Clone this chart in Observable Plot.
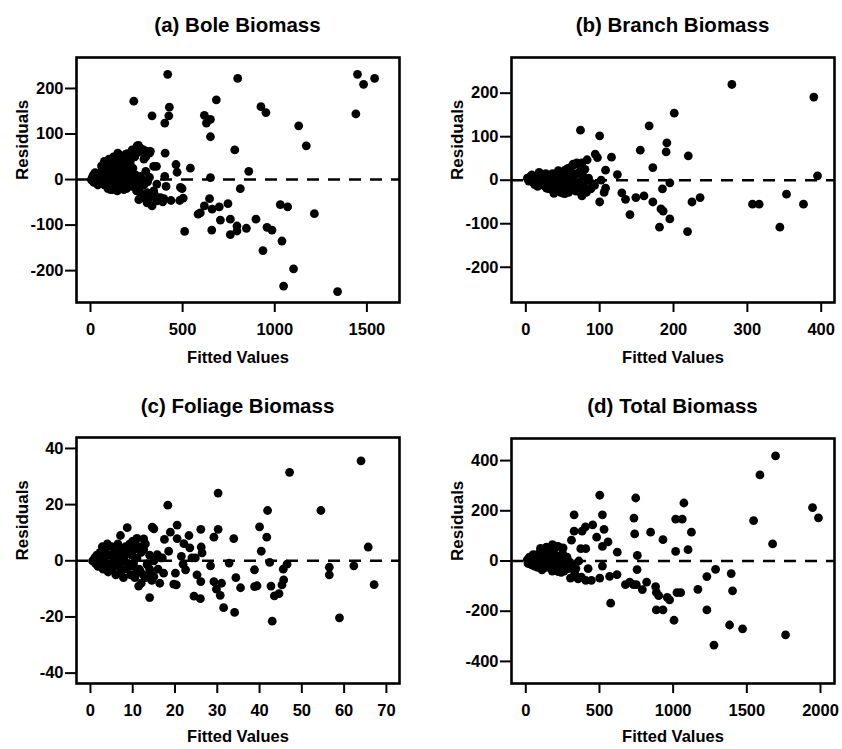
<!DOCTYPE html>
<html>
<head>
<meta charset="utf-8">
<script src="https://cdn.jsdelivr.net/npm/d3@7"></script>
<script src="https://cdn.jsdelivr.net/npm/@observablehq/plot@0.6"></script>
<style>
  html, body { margin: 0; padding: 0; background: #fff; }
  #wrap { position: relative; width: 842px; height: 749px; background: #fff; overflow: hidden;
          font-family: "Liberation Sans", Arial, sans-serif; }
  .title { position: absolute; width: 421px; text-align: center; font-weight: bold;
           font-size: 20.5px; line-height: 20px; color: #000; white-space: nowrap; }
  .panel { position: absolute; }
</style>
</head>
<body>
<div id="wrap"></div>
<script>
// ---------- data ----------
const titles = ["(a) Bole Biomass", "(b) Branch Biomass", "(c) Foliage Biomass", "(d) Total Biomass"];
const xLabel = "Fitted Values";
const yLabel = "Residuals";

const boleTicksX = [0, 500, 1000, 1500];
const boleTicksY = [-200, -100, 0, 100, 200];
const branchTicksX = [0, 100, 200, 300, 400];
const branchTicksY = [-200, -100, 0, 100, 200];
const foliageTicksX = [0, 10, 20, 30, 40, 50, 60, 70];
const foliageTicksY = [-40, -20, 0, 20, 40];
const totalTicksX = [0, 500, 1000, 1500, 2000];
const totalTicksY = [-400, -200, 0, 200, 400];

// [fitted, residual]
const bolePoints = [
  [419,231],[235,172],[334,140],[428,159],[425,140],[403,124],[799,222],[683,175],[618,141],[651,132],
  [629,124],[651,94],[925,160],[952,147],[783,65],[859,18],[1130,118],[1171,74],[1449,231],[1482,209],
  [1542,222],[1440,144],[1215,-75],[1030,-55],[1070,-60],[1039,-135],[1102,-196],[1048,-234],[1341,-246],[936,-156],
  [898,-87],[958,-105],[985,-111],[846,-107],[813,-20],[746,-53],[759,-87],[795,-102],[795,-113],[759,-121],
  [705,-89],[699,-60],[660,-65],[646,-42],[618,-58],[596,-73],[584,-76],[658,-111],[511,-114],[651,4],
  [542,25],[464,33],[470,16],[488,-17],[497,-20],[503,-41],[484,-46],[437,-46],[398,-42],[405,58],
  [403,7],[410,-15],[343,29],[358,29],[325,62],[307,62],[253,74],[271,69],[289,65],[226,65],
  [235,60],[239,51],[199,57],[148,58],[204,36],[343,-25],[307,-29],[262,-44],[307,-51],[334,-58],
  [352,-36],[361,-47],[392,-49],[271,7],[285,-6],[253,-15],[235,-4],[202,-11],[181,-22],[145,-25],
  [108,-22],[87,-11],
  [5,0],[8,-2],[10,5],[12,3],[15,-3],[15,10],[18,-6],[20,8],[22,4],[25,2],[25,15],[28,-1],[30,-5],
  [33,7],[35,12],[38,-4],[40,3],[40,-12],[45,-8],[48,2],[50,15],[52,-7],[55,6],[58,9],[60,-2],[60,30],
  [65,20],[68,-4],[70,10],[72,16],[75,-12],[75,40],[80,25],[85,0],[85,12],[88,-10],[90,35],[95,-6],
  [95,-20],[98,8],[100,45],[102,28],[105,18],[108,2],[110,-15],[112,-5],[115,30],[118,14],[120,5],
  [120,-22],[125,50],[128,26],[130,-10],[132,-2],[135,22],[138,6],[140,40],[145,10],[148,33],[150,-18],
  [152,-8],[155,55],[158,22],[160,15],[162,-15],[165,-5],[168,8],[170,30],[175,45],[180,2],[185,-12],
  [185,30],[190,55],[195,-20],[200,20],[200,48],[205,5],[210,-8],[215,40],[215,35],[220,10],[225,-15],
  [230,25],[235,-8],[240,50],[245,10],[250,-25],[250,70],[255,-5],[260,-10],[260,75],[265,-20],[265,60],
  [270,-30],[270,65],[280,0],[285,-40],[290,-12],[290,45],[300,18],[300,-35],[300,50],[310,-5],[310,62],
  [315,-45],[320,5],[320,58],[330,-30],[340,-35],[360,-10],[380,-40]
];

const branchPoints = [
  [279,220],[390,191],[395,10],[201,154],[167,125],[74,115],[100,102],[191,86],[190,65],[155,69],
  [220,56],[172,29],[94,60],[97,52],[116,53],[108,23],[124,13],[102,0],[195,-6],[185,-20],
  [108,-18],[106,-28],[130,-29],[135,-44],[149,-40],[160,-36],[172,-50],[100,-50],[141,-79],[183,-66],
  [186,-71],[195,-89],[181,-108],[219,-118],[225,-50],[236,-40],[307,-55],[316,-55],[353,-32],[376,-55],
  [344,-108],[93,-12],[84,0],[83,47],[76,40],[69,40],[64,37],[57,27],[53,23],[60,17],
  [69,15],[76,15],[75,-11],[76,-36],[81,-21],[53,-31],[39,-27],[30,-19],
  [2,5],[4,-2],[6,8],[8,0],[10,-5],[12,3],[14,10],[15,-8],[17,5],[18,18],[20,-3],[22,12],[24,-12],
  [25,6],[27,15],[28,-18],[30,2],[32,10],[33,-20],[35,-8],[36,15],[38,5],[40,-25],[41,12],[43,-15],
  [45,0],[46,18],[48,-22],[50,8],[51,-30],[53,20],[55,-10],[56,25],[58,-28],[60,5],[61,30],[63,-18],
  [65,35],[66,12],[68,-25],[70,38],[71,-5],[73,20],[75,-30],[77,10],[79,-15],[80,25],[82,-28],[85,5],
  [88,-20],[90,-8],[25,-5],[35,3],[45,-12],[55,-2],[65,-8],[12,-10],[20,8],[30,-12],[40,-2],[50,-18],
  [60,15],[70,-12],[8,12],[5,0],[3,3],[16,-14],[44,22],[52,-5],[62,-2],[38,-30],[47,-28]
];

const foliagePoints = [
  [64.0,35.6],[47.1,31.5],[30.2,24.1],[54.5,17.9],[41.9,17.9],[18.3,19.8],[40.0,12.1],[41.7,8.4],[40.4,3.4],[33.9,7.9],
  [30.2,11.2],[29.2,8.4],[26.1,11.2],[65.7,4.9],[62.3,-1.8],[56.5,-2.3],[56.5,-5.0],[58.9,-20.3],[67.1,-8.5],[46.5,-1.2],
  [45.6,-3.0],[45.7,-6.8],[45.3,-8.6],[44.6,-11.7],[43.5,-12.5],[42.7,-9.0],[43.0,-21.5],[42.4,-0.6],[38.8,-3.2],[38.8,-9.2],
  [39.4,-8.9],[35.5,-9.6],[34.4,-6.0],[34.1,-18.4],[31.5,-16.7],[30.7,-12.3],[31.0,-8.0],[29.2,-7.4],[29.8,-10.1],[32.8,-0.8],
  [28.4,-1.8],[26.1,-7.4],[26.0,-13.5],[24.5,-12.6],[26.2,4.9],[26.4,2.8],[25.2,-5.0],[24.8,1.0],[24.0,1.0],[23.3,9.0],
  [23.5,4.6],[22.1,6.1],[20.5,12.7],[18.9,10.2],[17.5,7.6],[20.5,7.9],[20.1,-4.4],[19.7,-8.3],[20.3,-8.6],[17.3,-4.4],
  [16.4,-8.0],[15.0,11.4],[14.6,12.0],[14.0,-13.1],[11.4,-9.0],[12.6,7.8],[8.7,11.8],[7.1,9.0],[18.5,3.4],[21.5,1.6],
  [21.9,-1.2],[22.5,-3.2],[15.8,2.2],[16.6,1.0],[13.4,-1.4],[14.2,-4.4],[15.0,-5.6],[11.8,-3.8],[10.2,-0.8],[9.5,4.0],
  [11.0,5.2],[12.6,4.0],
  [0.5,0],[1,1],[1.2,-1],[1.5,2],[1.8,-2],[2,0.5],[2.3,3],[2.5,-1.5],[2.8,5],[3,-3],[3.2,1],[3.5,4],[3.7,-2],
  [4,6],[4.2,-4],[4.5,2],[4.8,-1],[5,5],[5.2,-3],[5.5,0],[5.8,3],[6,-5],[6.2,1],[6.5,6],[6.8,-2],[7,4],
  [7.2,-4],[7.5,2],[7.8,-6],[8,0],[8.3,5],[8.5,-3],[8.8,3],[9,-1],[9.3,6],[9.5,-5],[9.8,2],[10,-2],
  [10.3,4],[10.5,-6],[11,1],[11.5,-3],[12,3],[12.5,-5],[13,6],[13.5,-1],[14,2],[14.5,-7],[15,0],[16,-3],
  [17,1],[3,0],[4,-1],[6,2],[7,-1],[8,1.5],[2,-0.5],[1,0],[5,-2],[9,3],[11,-4],[12,-8],[13,-6],[14,-3],
  [10,7],[11,8],[12,5]
];

const totalPoints = [
  [1695,419],[1589,343],[1546,161],[1675,68],[1946,213],[1986,172],[1763,-294],[1471,-270],[1383,-255],[1277,-335],
  [1229,-195],[1229,-62],[1288,-33],[1394,-50],[1403,-119],[1168,-113],[1124,115],[1101,45],[1073,231],[1062,167],
  [1017,167],[1017,38],[1006,-236],[1051,-126],[1026,-126],[976,-155],[960,-145],[931,-195],[886,-195],[902,-138],
  [886,-125],[881,-102],[820,-84],[791,-114],[750,-94],[730,-94],[705,-84],[676,-94],[755,-34],[757,22],
  [739,108],[734,171],[746,251],[847,115],[931,85],[520,184],[502,262],[531,126],[558,76],[520,58],
  [481,95],[454,144],[405,136],[382,119],[328,184],[328,119],[310,83],[373,49],[407,49],[621,35],
  [520,-20],[502,-68],[569,-61],[619,-54],[576,-168],[423,-30],[445,-77],[407,-77],[377,-64],[355,-71],
  [303,-68],[332,-50],[282,4],[253,52],[219,58],[181,65],
  [10,5],[20,-5],[30,10],[40,0],[50,-10],[60,15],[70,-3],[80,20],[90,-15],[100,8],[110,-20],[120,25],
  [130,0],[140,-25],[150,35],[160,-8],[170,12],[180,-30],[190,45],[200,-12],[210,20],[220,-35],[230,5],
  [240,-20],[250,30],[260,-40],[270,-10],[280,15],[290,-30],[300,-5],[100,50],[120,40],[140,55],[160,30],
  [80,-25],[60,-20],[180,-40],[200,-38],[220,-42],[240,-45],[170,48],[210,58],[250,-5],[320,-20],[340,-30],
  [360,0],[150,-15],[130,20],[110,-35],[90,30],[50,25],[40,-15],[25,15],[15,-10]
];

// ---------- drawing ----------
const FONT = '"Liberation Sans", Arial, Helvetica, sans-serif';
const wrap = document.getElementById("wrap");

function makePanel(cfg) {
  const t = document.createElement("div");
  t.className = "title";
  t.textContent = cfg.title;
  t.style.left = (cfg.left + cfg.titleShift) + "px";
  t.style.top = cfg.titleTop + "px";
  wrap.appendChild(t);

  const fmt = d => String(d);
  const chart = Plot.plot({
    width: 421,
    height: cfg.height,
    marginLeft: cfg.mL, marginRight: cfg.mR, marginTop: cfg.mT, marginBottom: cfg.mB,
    style: { fontFamily: FONT, fontWeight: "bold", color: "#000", background: "transparent", overflow: "visible" },
    x: { domain: cfg.xDomain, label: null },
    y: { domain: cfg.yDomain, label: null },
    marks: [
      Plot.ruleY([0], { stroke: "#000", strokeWidth: 2.6, strokeDasharray: "12,9" }),
      Plot.dot(cfg.points, { x: d => d[0], y: d => d[1], r: 4.4, fill: "#000", stroke: null }),
      Plot.frame({ stroke: "#000", strokeWidth: 2.6 }),
      Plot.axisX({ ticks: cfg.xTicks, tickFormat: fmt, tickSize: 10, tickPadding: 11, fontSize: 16.5,
                   fontWeight: "bold", strokeWidth: 2, label: null }),
      Plot.axisY({ ticks: cfg.yTicks, tickFormat: fmt, tickSize: 11, tickPadding: 2, fontSize: 16.5,
                   fontWeight: "bold", strokeWidth: 2, label: null }),
      Plot.text([xLabel], { text: d => d, frameAnchor: "bottom", dy: cfg.xLabDy, fontSize: 16.5,
                            fontWeight: "bold", fill: "#000" }),
      Plot.text([yLabel], { text: d => d, frameAnchor: "left", dx: -54, rotate: -90, fontSize: 17,
                            fontWeight: "bold", fill: "#000" })
    ]
  });
  const p = document.createElement("div");
  p.className = "panel";
  p.style.left = cfg.left + "px";
  p.style.top = cfg.top + "px";
  p.appendChild(chart);
  wrap.appendChild(p);
}

makePanel({ title: titles[0], left: 0, top: 45, height: 330, titleTop: 15, titleShift: 27,
  mL: 76, mR: 22, mT: 12, mB: 73, xLabDy: 60,
  xDomain: [-76, 1677], yDomain: [-270, 268], xTicks: boleTicksX, yTicks: boleTicksY, points: bolePoints });

makePanel({ title: titles[1], left: 421, top: 45, height: 330, titleTop: 15, titleShift: 41,
  mL: 90, mR: 8, mT: 12, mB: 73, xLabDy: 60,
  xDomain: [-19.4, 418], yDomain: [-281, 282], xTicks: branchTicksX, yTicks: branchTicksY, points: branchPoints });

makePanel({ title: titles[2], left: 0, top: 420, height: 329, titleTop: 396, titleShift: 27,
  mL: 76, mR: 22, mT: 17, mB: 66, xLabDy: 58,
  xDomain: [-3.3, 73.1], yDomain: [-43.7, 43.9], xTicks: foliageTicksX, yTicks: foliageTicksY, points: foliagePoints });

makePanel({ title: titles[3], left: 421, top: 420, height: 329, titleTop: 396, titleShift: 41,
  mL: 90, mR: 8, mT: 18, mB: 66, xLabDy: 58,
  xDomain: [-97, 2095], yDomain: [-488, 488], xTicks: totalTicksX, yTicks: totalTicksY, points: totalPoints });
</script>
</body>
</html>
